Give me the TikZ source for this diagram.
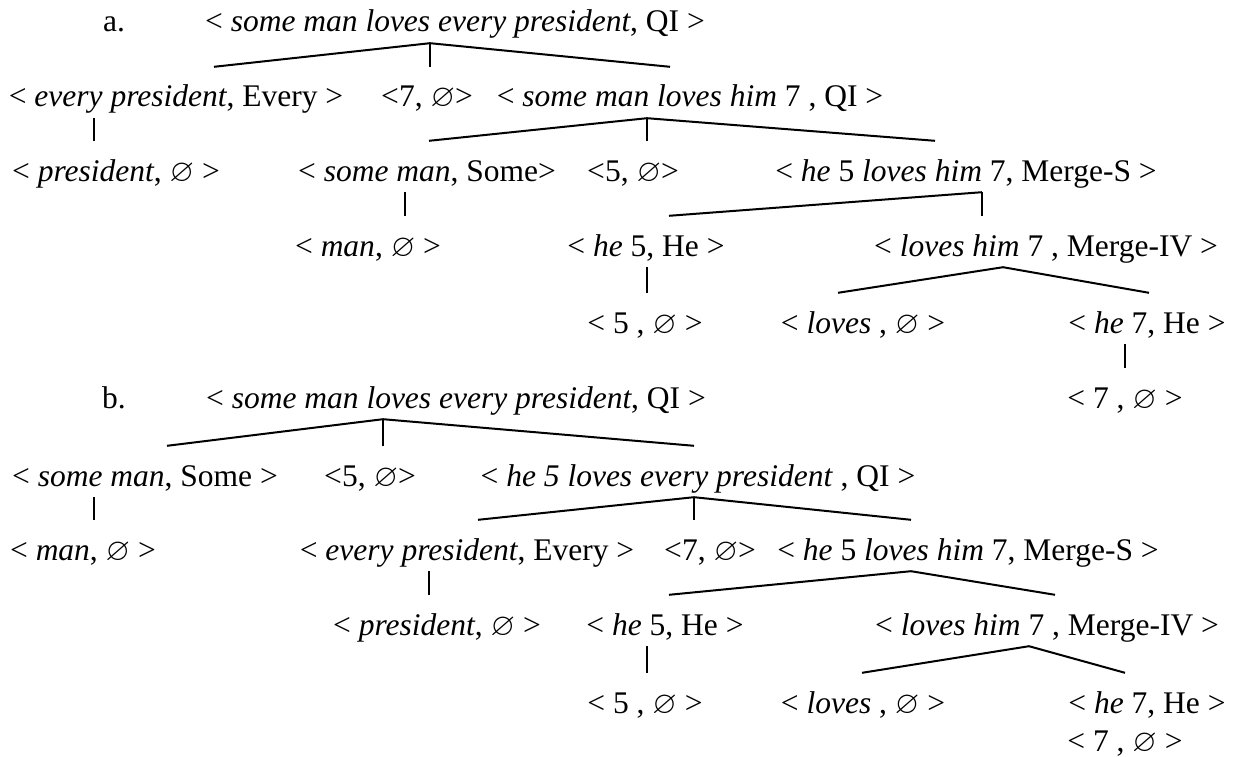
\documentclass[tikz,border=0pt]{standalone}
\usepackage{amssymb}
\usepackage{fontspec}
\setmainfont{Liberation Serif}
\usetikzlibrary{calc}
\newcommand{\noset}{$\varnothing$}
\tikzset{
  lbl/.style={anchor=base, inner sep=0pt, text height=40pt, text depth=11pt},
  edge/.style={line width=2pt},
  stem/.style={line width=1.4pt}
}
\begin{document}
\begin{tikzpicture}[x=1pt, y=-1pt, font=\fontsize{31.5}{36}\selectfont]
  \useasboundingbox (0,0) rectangle (1234,757);
  % tree a
  \node[lbl] (aLabel) at (114,32) {a.};
  \node[lbl] (aRoot) at (455,32) {< \textit{some man loves every president}, QI >};
  \node[lbl] (aEvery) at (176,107) {< \textit{every president}, Every >};
  \node[lbl] (aSeven) at (427,107) {<7, \noset>};
  \node[lbl] (aSomeHim) at (690,107) {< \textit{some man loves him} 7 , QI >};
  \node[lbl] (aPres) at (116,181) {< \textit{president}, \noset{} >};
  \node[lbl] (aSomeMan) at (427,181) {< \textit{some man}, Some>};
  \node[lbl] (aFive) at (633,181) {<5, \noset>};
  \node[lbl] (aHeFiveS) at (966,181) {< \textit{he} 5 \textit{loves him} 7, Merge-S >};
  \node[lbl] (aMan) at (368,256) {< \textit{man}, \noset{} >};
  \node[lbl] (aHeFive) at (646,256) {< \textit{he} 5, He >};
  \node[lbl] (aLovesIV) at (1046,256) {< \textit{loves him} 7 , Merge-IV >};
  \node[lbl] (aFiveE) at (645,333) {< 5 , \noset{} >};
  \node[lbl] (aLoves) at (863,333) {< \textit{loves} , \noset{} >};
  \node[lbl] (aHeSeven) at (1147,333) {< \textit{he} 7, He >};
  \node[lbl] (aSevenE) at (1125,408) {< 7 , \noset{} >};

  \foreach \c/\x in {aEvery/214, aSomeHim/670}
    \draw[edge] (430,0 |- aRoot.south) -- (\x,0 |- \c.north);
  \draw[stem] (430,0 |- aRoot.south) -- (430,0 |- aSeven.north);
  \draw[stem] (94,0 |- aEvery.south) -- (94,0 |- aPres.north);
  \foreach \c/\x in {aSomeMan/429, aHeFiveS/935}
    \draw[edge] (647,0 |- aSomeHim.south) -- (\x,0 |- \c.north);
  \draw[stem] (647,0 |- aSomeHim.south) -- (647,0 |- aFive.north);
  \draw[stem] (405,0 |- aSomeMan.south) -- (405,0 |- aMan.north);
  \draw[edge] (982,0 |- aHeFiveS.south) -- (669,0 |- aHeFive.north);
  \draw[stem] (982,0 |- aHeFiveS.south) -- (982,0 |- aLovesIV.north);
  \draw[stem] (647,0 |- aHeFive.south) -- (647,0 |- aFiveE.north);
  \foreach \c/\x in {aLoves/838, aHeSeven/1149}
    \draw[edge] (1003,0 |- aLovesIV.south) -- (\x,0 |- \c.north);
  \draw[stem] (1125,0 |- aHeSeven.south) -- (1125,0 |- aSevenE.north);

  % tree b
  \node[lbl] (bLabel) at (114,408) {b.};
  \node[lbl] (bRoot) at (456,408) {< \textit{some man loves every president}, QI >};
  \node[lbl] (bSomeMan) at (145,486) {< \textit{some man}, Some >};
  \node[lbl] (bFive) at (370,486) {<5, \noset>};
  \node[lbl] (bHeEvery) at (698,486) {< \textit{he 5 loves every president} , QI >};
  \node[lbl] (bMan) at (83,560) {< \textit{man}, \noset{} >};
  \node[lbl] (bEvery) at (467,560) {< \textit{every president}, Every >};
  \node[lbl] (bSeven) at (710,560) {<7, \noset>};
  \node[lbl] (bHeFiveS) at (968,560) {< \textit{he} 5 \textit{loves him} 7, Merge-S >};
  \node[lbl] (bPres) at (437,635) {< \textit{president}, \noset{} >};
  \node[lbl] (bHeFive) at (665,635) {< \textit{he} 5, He >};
  \node[lbl] (bLovesIV) at (1047,635) {< \textit{loves him} 7 , Merge-IV >};
  \node[lbl] (bFiveE) at (645,713) {< 5 , \noset{} >};
  \node[lbl] (bLoves) at (863,713) {< \textit{loves} , \noset{} >};
  \node[lbl] (bHeSeven) at (1147,713) {< \textit{he} 7, He >};
  \node[lbl] (bSevenE) at (1125,751) {< 7 , \noset{} >};

  \foreach \c/\x in {bSomeMan/167, bHeEvery/694}
    \draw[edge] (383,0 |- bRoot.south) -- (\x,0 |- \c.north);
  \draw[stem] (383,0 |- bRoot.south) -- (383,0 |- bFive.north);
  \draw[stem] (94,0 |- bSomeMan.south) -- (94,0 |- bMan.north);
  \foreach \c/\x in {bEvery/478, bHeFiveS/911}
    \draw[edge] (694,0 |- bHeEvery.south) -- (\x,0 |- \c.north);
  \draw[stem] (694,0 |- bHeEvery.south) -- (694,0 |- bSeven.north);
  \draw[stem] (429,0 |- bEvery.south) -- (429,0 |- bPres.north);
  \foreach \c/\x in {bHeFive/669, bLovesIV/1055}
    \draw[edge] (911,0 |- bHeFiveS.south) -- (\x,0 |- \c.north);
  \draw[stem] (647,0 |- bHeFive.south) -- (647,0 |- bFiveE.north);
  \foreach \c/\x in {bLoves/862, bHeSeven/1125}
    \draw[edge] (1029,0 |- bLovesIV.south) -- (\x,0 |- \c.north);
\end{tikzpicture}
\end{document}
